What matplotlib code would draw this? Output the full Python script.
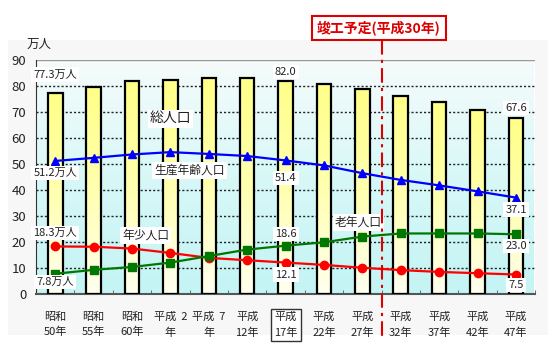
import numpy as np
import matplotlib
matplotlib.use("Agg")
import matplotlib.pyplot as plt
from matplotlib.colors import LinearSegmentedColormap
from matplotlib.patches import Rectangle
import matplotlib.transforms as mtransforms

plt.rcParams['font.family'] = ['Noto Sans CJK JP', 'DejaVu Sans']

# data (万人)
years = ["昭和\n50年", "昭和\n55年", "昭和\n60年", "平成  2\n年", "平成  7\n年",
         "平成\n12年", "平成\n17年", "平成\n22年", "平成\n27年", "平成\n32年",
         "平成\n37年", "平成\n42年", "平成\n47年"]
total = [77.3, 79.5, 81.8, 82.3, 83.0, 83.0, 82.0, 80.8, 78.7, 76.2, 73.8, 70.8, 67.6]
working = [51.2, 52.4, 53.7, 54.6, 53.9, 53.1, 51.4, 49.5, 46.5, 43.9, 41.8, 39.5, 37.1]
elderly = [7.8, 9.3, 10.4, 12.1, 14.6, 17.1, 18.6, 19.9, 22.1, 23.3, 23.3, 23.3, 23.0]
youth = [18.3, 18.2, 17.5, 15.8, 13.9, 13.0, 12.1, 11.2, 10.1, 9.2, 8.5, 8.0, 7.5]

x = np.arange(len(years))

fig = plt.figure(figsize=(5.5, 3.47), dpi=100)
fig.patch.set_facecolor('white')
# light grey panel behind chart
fig.add_artist(Rectangle((8/550, 1-335/347), 540/550, 295/347, transform=fig.transFigure,
                         facecolor='#f7f7f7', edgecolor='none', zorder=-10))

ax = fig.add_axes([0.0655, 0.1527, 0.9075, 0.674])

# background gradient
bg = LinearSegmentedColormap.from_list('bg', ['#c4f4f4', '#d8f8f8', '#f6fbfb'])
grad = np.linspace(0, 1, 256).reshape(-1, 1)
ax.imshow(grad, cmap=bg, origin='lower', aspect='auto',
          extent=(-0.5, 12.47, 0, 90), zorder=0)

# grid
for v in range(10, 90, 10):
    ax.axhline(v, color='#222222', lw=1.0, ls=(0, (1.5, 1.5)), zorder=1)
ax.axhline(90, color='#999999', lw=1.0, zorder=1)

# bars with yellow gradient
w = 0.38
ycm = LinearSegmentedColormap.from_list('yb', ['#fffff0', '#ffffb0', '#ffff88'])
bars = ax.bar(x, total, width=w, facecolor='none', edgecolor='black', lw=1.6, zorder=3)
for b in bars:
    ax.imshow(grad, cmap=ycm, origin='lower', aspect='auto',
              extent=(b.get_x(), b.get_x() + b.get_width(), 0, b.get_height()), zorder=2)
ax.set_xlim(-0.5, 12.47)
ax.set_ylim(0, 90)

# lines
ax.plot(x, working, color='#0000ff', lw=1.6, marker='^', ms=6, zorder=5)
ax.plot(x, elderly, color='#007700', lw=1.6, marker='s', ms=5.5, zorder=5)
ax.plot(x, youth, color='#ff0000', lw=1.6, marker='o', ms=6, zorder=4)

# axes styling
for s in ['top', 'right']:
    ax.spines[s].set_visible(False)
ax.spines['left'].set_color('#333333')
ax.spines['bottom'].set_color('#555555')
ax.spines['bottom'].set_linewidth(1.5)
ax.set_yticks(range(0, 91, 10))
ax.tick_params(axis='y', length=0, labelsize=9.5, pad=7, labelcolor='#222222')
ax.set_xticks(x)
ax.set_xticklabels(years, fontsize=8, linespacing=1.6, color='#222222')
ax.tick_params(axis='x', length=0, pad=13)
ax.set_xticks(x + 0.5, minor=True)
ax.tick_params(axis='x', which='minor', length=3, direction='in', color='#555555')
for lbl in ax.get_xticklabels():
    if lbl.get_text() == "平成\n17年":
        lbl.set_bbox(dict(facecolor='white', edgecolor='#333333', boxstyle='square,pad=0.3'))

fig.text(27/550, 1-44/347, "万人", fontsize=9, color='#222222', va='center')

# annotations
wb = dict(facecolor='white', edgecolor='none', pad=1.5)
def note(xx, yy, s, fs=8, ha='center'):
    ax.text(xx, yy, s, fontsize=fs, ha=ha, va='center', color='#222222', bbox=wb, zorder=6)

note(0, 84.5, "77.3万人")
note(6, 85.5, "82.0")
note(12, 71.5, "67.6")
note(3.0, 67.5, "総人口", fs=10)
note(3.5, 47.5, "生産年齢人口", fs=8.5)
note(0, 46.5, "51.2万人")
note(6, 44.5, "51.4")
note(12, 32.5, "37.1")
note(0, 23.5, "18.3万人")
note(2.35, 22.5, "年少人口", fs=8.5)
note(6, 23.0, "18.6")
note(7.9, 27.5, "老年人口", fs=8.5)
note(0, 4.5, "7.8万人")
note(6, 7.5, "12.1")
note(12, 18.5, "23.0")
note(12, 3.5, "7.5")

# completion line
trans = mtransforms.blended_transform_factory(ax.transData, fig.transFigure)
ax.plot([8.5, 8.5], [1-40/347, 1-337/347], transform=trans, color='#dd0000', lw=1.5,
        ls=(0, (7, 2.5, 1.5, 2.5)), clip_on=False, zorder=7)
fig.text(379/550, 1-28/347, "竣工予定(平成30年)", fontsize=10, fontweight='bold', color='#dd0000',
         ha='center', va='center',
         bbox=dict(facecolor='white', edgecolor='#dd0000', lw=1.5, boxstyle='square,pad=0.35'))

fig.savefig("out.png", dpi=100)
